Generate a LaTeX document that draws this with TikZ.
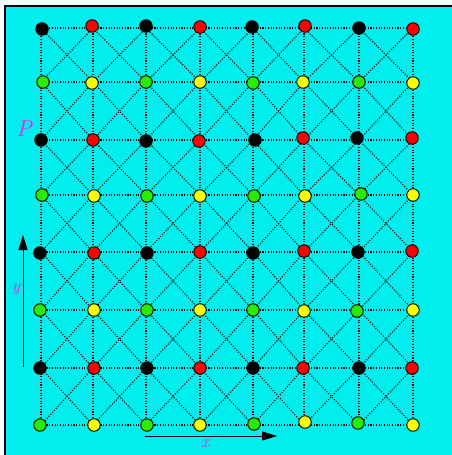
\documentclass[tikz,border=0pt]{standalone}
\usepackage{fontspec}
\usetikzlibrary{arrows.meta,backgrounds}
\definecolor{bg}{RGB}{0,238,238}
\definecolor{mag}{RGB}{230,40,230}
\definecolor{gr}{RGB}{40,235,0}
\definecolor{ye}{RGB}{255,255,0}
\tikzset{
  dot/.style={circle,draw=black,line width=0.9pt,minimum size=12.5pt,inner sep=0pt},
  gl/.style={draw=black,line width=1.1pt,dash pattern=on 1.1pt off 1.6pt},
  lab/.style={text=mag,inner sep=0pt},
  axis/.style={line width=1pt,-{Triangle[length=15pt,width=9pt]}}
}
\begin{document}
\begin{tikzpicture}[x=1pt,y=-1pt]
\useasboundingbox (0,0) rectangle (452,455);
% grid points (lines run on a regular grid)
\foreach \r/\gy in {1/28,2/82,3/140,4/195,5/252,6/310,7/368,8/425}
  \foreach \k/\gx in {1/41,2/93,3/146,4/200,5/253,6/304,7/359,8/413}
    \coordinate (g\r-\k) at (\gx,\gy);
% nodes
\foreach \k/\x/\y/\col in {1/42/29/black,2/92/26/red,3/146/26/black,4/200/27/red,5/252/27/black,6/305/26/red,7/359/28/black,8/413/29/red}
  \node[dot,fill=\col] (n1-\k) at (\x,\y) {};
\foreach \k/\x/\y/\col in {1/43/82/gr,2/92/83/ye,3/146/82/gr,4/200/82/ye,5/253/83/gr,6/303/82/ye,7/359/82/gr,8/413/83/ye}
  \node[dot,fill=\col] (n2-\k) at (\x,\y) {};
\foreach \k/\x/\y/\col in {1/41/140/black,2/93/140/red,3/146/141/black,4/199/141/red,5/255/140/black,6/303/138/red,7/357/138/black,8/412/138/red}
  \node[dot,fill=\col] (n3-\k) at (\x,\y) {};
\foreach \k/\x/\y/\col in {1/42/195/gr,2/94/196/ye,3/147/196/gr,4/200/196/ye,5/254/196/gr,6/305/196/ye,7/361/194/gr,8/413/195/ye}
  \node[dot,fill=\col] (n4-\k) at (\x,\y) {};
\foreach \k/\x/\y/\col in {1/40/253/black,2/94/253/red,3/147/253/black,4/200/252/red,5/253/253/black,6/304/251/red,7/358/252/black,8/412/251/red}
  \node[dot,fill=\col] (n5-\k) at (\x,\y) {};
\foreach \k/\x/\y/\col in {1/40/310/gr,2/94/310/ye,3/147/310/gr,4/200/310/ye,5/253/310/gr,6/304/311/ye,7/357/311/gr,8/413/310/ye}
  \node[dot,fill=\col] (n6-\k) at (\x,\y) {};
\foreach \k/\x/\y/\col in {1/40/368/black,2/94/368/red,3/147/368/black,4/200/368/red,5/253/368/black,6/303/368/red,7/359/368/black,8/412/368/red}
  \node[dot,fill=\col] (n7-\k) at (\x,\y) {};
\foreach \k/\x/\y/\col in {1/40/425/gr,2/94/425/ye,3/147/425/gr,4/200/425/ye,5/254/424/gr,6/305/422/ye,7/358/423/gr,8/413/425/ye}
  \node[dot,fill=\col] (n8-\k) at (\x,\y) {};
\begin{pgfonlayer}{background}
  \fill[bg] (5,6) rectangle (452,455);
  \draw[line width=1.2pt] (5,455) -- (5,6) -- (452,6);
  % horizontal rows
  \foreach \r in {1,...,8}
    \draw[gl] (g\r-1) -- (g\r-8);
  % vertical columns
  \foreach \k in {1,...,8}
    \draw[gl] (g1-\k) -- (g8-\k);
  % diagonals
  \foreach \r [evaluate=\r as \rr using int(\r+1)] in {1,...,7} {
    \foreach \k [evaluate=\k as \kk using int(\k+1)] in {1,...,7} {
      \draw[gl] (g\r-\k) -- (g\rr-\kk);
      \draw[gl] (g\r-\kk) -- (g\rr-\k);
    }
  }
\end{pgfonlayer}
% axes
\coordinate (ya) at (23,367);
\coordinate (yb) at (23,235);
\coordinate (xa) at (145,436);
\coordinate (xb) at (277,436);
\draw[axis] (ya) -- (yb);
\draw[axis] (xa) -- (xb);
\node[lab] (P) at (24,129) {\fontsize{23}{26}\selectfont\itshape P};
\node[lab] (ylab) at (16,289) {\fontsize{18}{20}\selectfont\itshape y};
\node[lab] (xlab) at (205,444) {\fontsize{18}{20}\selectfont\itshape x};
\end{tikzpicture}
\end{document}
